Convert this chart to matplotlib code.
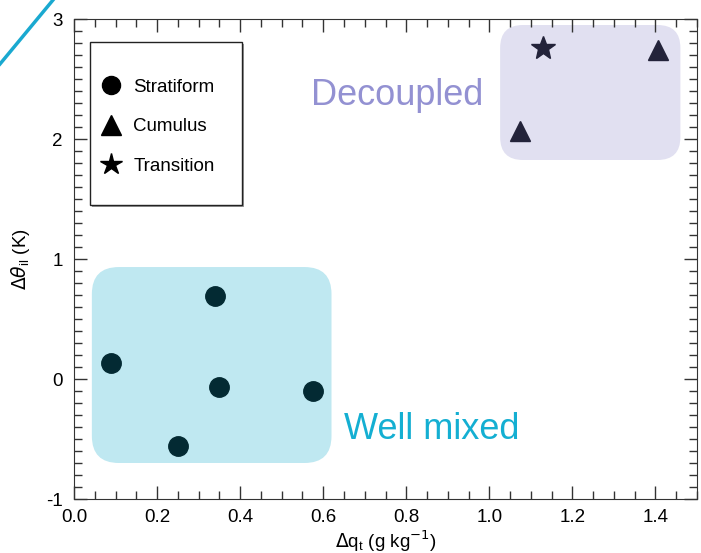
import matplotlib.pyplot as plt
import numpy as np
from matplotlib.patches import FancyBboxPatch, Rectangle
from matplotlib.lines import Line2D
from matplotlib.ticker import MultipleLocator

plt.rcParams['font.family'] = ['Liberation Sans', 'DejaVu Sans']

# data
strat_dq = [0.09, 0.34, 0.35, 0.575, 0.25]
strat_dth = [0.13, 0.69, -0.07, -0.10, -0.56]
cu_dq = [1.075, 1.405]
cu_dth = [2.07, 2.74]
tr_dq = [1.13]
tr_dth = [2.76]

xticks = [0.0, 0.2, 0.4, 0.6, 0.8, 1.0, 1.2, 1.4]
yticks = [-1, 0, 1, 2, 3]

fig = plt.figure(figsize=(7.01, 5.53), dpi=100)
ax = fig.add_axes([74/701, 54/553, 623/701, 480/553])
ax.set_xlim(0, 1.5)
ax.set_ylim(-1, 3)

# y-distortion between data units (px per unit x / px per unit y)
asp = (623/1.5) / (480/4)

# shaded regimes
well = FancyBboxPatch((0.043, -0.70), 0.577, 1.633,
                      boxstyle='round,pad=0,rounding_size=0.065',
                      mutation_aspect=asp, fc='#bfe8f1', ec='none', zorder=1)
dec = FancyBboxPatch((1.026, 1.825), 0.434, 1.125,
                     boxstyle='round,pad=0,rounding_size=0.055',
                     mutation_aspect=asp, fc='#e1e0f1', ec='none', zorder=1)
ax.add_patch(well)
ax.add_patch(dec)
ax.text(0.65, -0.42, 'Well mixed', color='#14afd2', fontsize=26,
        ha='left', va='center', zorder=2)
ax.text(0.985, 2.36, 'Decoupled', color='#9391d2', fontsize=26,
        ha='right', va='center', zorder=2)

ax.plot(strat_dq, strat_dth, 'o', ms=14, color='#032a33', ls='none', zorder=3)
ax.plot(cu_dq, cu_dth, '^', ms=15, color='#23233a', ls='none', zorder=3)
ax.plot(tr_dq, tr_dth, '*', ms=18, color='#23233a', ls='none', zorder=3)

ax.set_xticks(xticks)
ax.set_xticklabels(['%.1f' % v for v in xticks])
ax.set_yticks(yticks)
ax.set_yticklabels(['%d' % v for v in yticks])
ax.xaxis.set_minor_locator(MultipleLocator(0.05))
ax.yaxis.set_minor_locator(MultipleLocator(0.1))
ax.tick_params(which='both', direction='in', top=True, right=True,
               labelsize=13.5, color='#333333')
ax.tick_params(which='major', length=9.5, width=1)
ax.tick_params(which='minor', length=5.5, width=1)
ax.tick_params(axis='x', which='major', pad=7)
ax.tick_params(axis='y', which='major', pad=8)
for s in ax.spines.values():
    s.set_color('#333333')

ax.set_xlabel(r'$\Delta$q$_\mathregular{t}$ (g kg$^{-1}$)', fontsize=13.5, labelpad=2)
ax.set_ylabel(r'$\Delta\theta_\mathregular{il}$ (K)', fontsize=13.5, labelpad=10)

# legend box drawn by hand (taller than wide padding), faint shadow
bx0, bx1 = (90 - 74) / 623, (242 - 74) / 623
by0, by1 = (499 - 205) / 480, (499 - 42) / 480
ax.add_patch(Rectangle((bx0 + 0.003, by0 - 0.004), bx1 - bx0, by1 - by0,
                       transform=ax.transAxes, fc='#9a9a9a', ec='none',
                       zorder=4))
ax.add_patch(Rectangle((bx0, by0), bx1 - bx0, by1 - by0,
                       transform=ax.transAxes, fc='white', ec='#222222',
                       lw=1.0, zorder=4.1))

handles = [
    Line2D([], [], marker='o', ls='none', color='black', ms=13),
    Line2D([], [], marker='^', ls='none', color='black', ms=14),
    Line2D([], [], marker='*', ls='none', color='black', ms=16),
]
leg = ax.legend(handles, ['Stratiform', 'Cumulus', 'Transition'],
                loc='center left',
                bbox_to_anchor=(bx0 + 0.002, (by0 + by1) / 2 - 0.007),
                borderaxespad=0, fontsize=13.5, frameon=False,
                labelspacing=1.2, handletextpad=0.65, borderpad=0.5,
                handlelength=1.1)
leg.set_zorder(5)

# cut-off accent line from slide, outside the axes
fig.add_artist(Line2D([0/701, 53/701], [1 - 64/553, 1.0], color='#1aa9d0',
                      lw=2.5, transform=fig.transFigure))

fig.savefig('out.png', dpi=100)
